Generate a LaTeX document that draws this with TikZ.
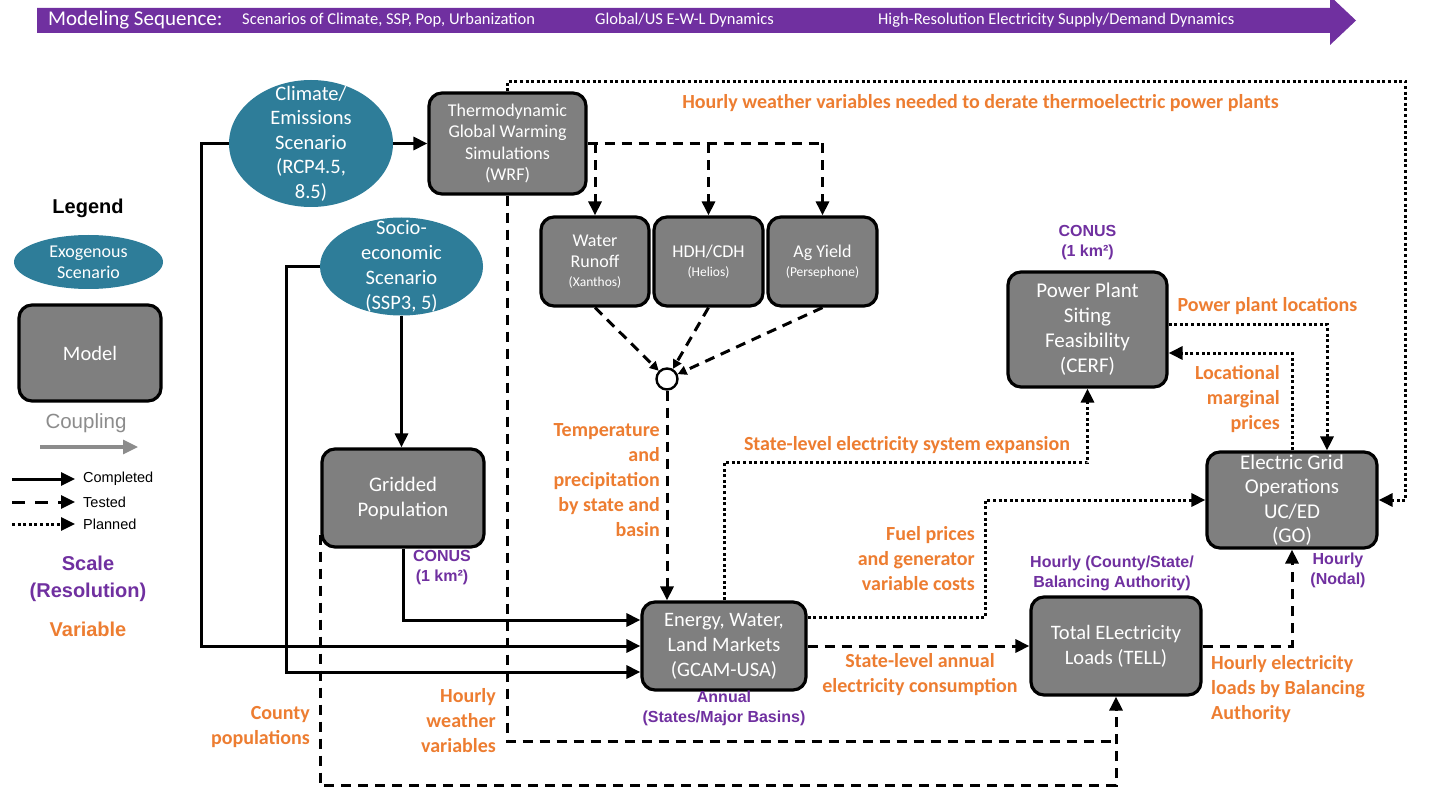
\documentclass[tikz,border=0pt]{standalone}
\usepackage{fontspec}
\setmainfont{Carlito}
\newfontfamily\arialf{Liberation Sans}
\usetikzlibrary{arrows.meta,shapes.geometric}
\definecolor{tealc}{HTML}{2E7D99}
\definecolor{boxgray}{HTML}{7F7F7F}
\definecolor{purplec}{HTML}{7030A0}
\definecolor{orangec}{HTML}{ED7D31}
\definecolor{cplgray}{HTML}{8C8C8C}
\newcommand{\myfs}[2]{\fontsize{#1}{#2}\selectfont}
\tikzset{
  model/.style={draw=black, line width=3.2pt, fill=boxgray, rounded corners=13pt, text=white, align=center, inner sep=0pt},
  scen/.style={ellipse, fill=tealc, inner sep=0pt},
  scentxt/.style={text=white, align=center, inner sep=0pt, font=\myfs{20.5}{24.5}},
  con/.style={line width=3pt},
  tipb/.style={-{Triangle[length=14pt,width=13pt]}},
  solidarr/.style={con, tipb},
  dashln/.style={con, dash pattern=on 10pt off 7pt},
  dasharr/.style={con, dash pattern=on 10pt off 7pt, tipb},
  dasharrs/.style={con, dash pattern=on 10pt off 7pt, -{Triangle[length=9pt,width=9pt]}},
  dotarr/.style={con, dash pattern=on 3pt off 2.6pt, tipb},
  olbl/.style={text=orangec, font=\bfseries\myfs{20}{25}, inner sep=0pt},
  plbl/.style={text=purplec, font=\arialf\bfseries\myfs{16}{20}, align=center, inner sep=0pt},
  bantxt/.style={text=white, anchor=west, inner sep=0pt, font=\myfs{16.5}{20}},
}
\begin{document}
\begin{tikzpicture}[x=1pt,y=-1pt]
\fill[white] (0,0) rectangle (1440,810);
\useasboundingbox (0,0) rectangle (1440,810);

% banner
\fill[purplec] (37,8) -- (1330,8) -- (1330,-4) -- (1356,20.5) -- (1330,45) -- (1330,33) -- (37,33) -- cycle;
\node[bantxt, font=\myfs{21}{24}] (bseq) at (48,20.5) {Modeling Sequence:};
\node[bantxt] (bs1) at (242,20.5) {Scenarios of Climate, SSP, Pop, Urbanization};
\node[bantxt] (bs2) at (595,20.5) {Global/US E-W-L Dynamics};
\node[bantxt] (bs3) at (878,20.5) {High-Resolution Electricity Supply/Demand Dynamics};

% legend
\node[font=\arialf\bfseries\myfs{20}{24}, inner sep=0pt] (leg) at (88,208) {Legend};
\node[scen, minimum width=149pt, minimum height=54pt, label={[scentxt, font=\myfs{18}{21}]center:{Exogenous\\Scenario}}] (legexo) at (88.5,262) {};
\node[model, minimum width=142pt, minimum height=96pt, font=\myfs{20.5}{24}] (legmodel) at (90,353) {Model};
\node[text=cplgray, font=\arialf\myfs{20.5}{24}, inner sep=0pt] (cpl) at (86,423) {Coupling};
\coordinate (cpla) at (40,447);
\coordinate (cplb) at (138,447);
\draw[line width=3.2pt, draw=cplgray, -{Triangle[length=15pt,width=14pt]}] (cpla) -- (cplb);
\coordinate (l1a) at (12,479); \coordinate (l1b) at (75,479);
\coordinate (l2a) at (12,502); \coordinate (l2b) at (75,502);
\coordinate (l3a) at (12,524); \coordinate (l3b) at (75,524);
\draw[solidarr] (l1a) -- (l1b);
\draw[con, dash pattern=on 13pt off 10pt, tipb] (l2a) -- (l2b);
\draw[dotarr] (l3a) -- (l3b);
\node[anchor=west, inner sep=0pt, font=\arialf\myfs{14.5}{17}] (t1) at (83,479) {Completed};
\node[anchor=west, inner sep=0pt, font=\arialf\myfs{14.5}{17}] (t2) at (83,502) {Tested};
\node[anchor=west, inner sep=0pt, font=\arialf\myfs{14.5}{17}] (t3) at (83,524) {Planned};
\node[text=purplec, align=center, inner sep=0pt, font=\arialf\bfseries\myfs{20}{27}] (lscale) at (88,578.5) {Scale\\(Resolution)};
\node[text=orangec, inner sep=0pt, font=\arialf\bfseries\myfs{20}{24}] (lvar) at (88,629) {Variable};

% scenarios
\node[scen, minimum width=164pt, minimum height=127pt, label={[scentxt]center:{Climate/\\Emissions\\Scenario\\(RCP4.5,\\8.5)}}] (clim) at (311,143.5) {};
\node[scen, minimum width=163pt, minimum height=98pt, label={[scentxt, font=\myfs{20.5}{25}]center:{Socio-\\economic\\Scenario\\(SSP3, 5)}}] (socio) at (401.5,266.5) {};

% models
\node[model, minimum width=157pt, minimum height=101pt, font=\myfs{18}{21.5}] (wrf) at (507.5,143.5) {Thermodynamic\\Global Warming\\Simulations\\(WRF)};
\node[model, minimum width=108pt, minimum height=89pt, font=\myfs{18}{21}] (runoff) at (595,261.5) {Water\\Runoff\\[-2pt]{\myfs{13.5}{16}(Xanthos)}};
\node[model, minimum width=109pt, minimum height=89pt, font=\myfs{18}{21}] (hdh) at (708.5,261.5) {HDH/CDH\\[-2pt]{\myfs{13.5}{16}(Helios)}};
\node[model, minimum width=109pt, minimum height=89pt, font=\myfs{18}{21}] (ag) at (822.5,261.5) {Ag Yield\\[-2pt]{\myfs{13.5}{16}(Persephone)}};
\node[model, minimum width=159pt, minimum height=115pt, font=\myfs{21}{25}] (cerf) at (1087.5,329.5) {Power Plant\\Siting\\Feasibility\\(CERF)};
\node[model, minimum width=170pt, minimum height=96pt, font=\myfs{21}{24.5}] (go) at (1292,500) {Electric Grid\\Operations\\UC/ED\\(GO)};
\node[model, minimum width=162pt, minimum height=98pt, font=\myfs{20.7}{25}] (gridpop) at (403,498) {Gridded\\Population};
\node[model, minimum width=164pt, minimum height=88pt, font=\myfs{20.5}{25}] (gcam) at (724,646) {Energy, Water,\\Land Markets\\(GCAM-USA)};
\node[model, minimum width=170pt, minimum height=98pt, font=\myfs{20.5}{25}] (tell) at (1116,646) {Total ELectricity\\Loads (TELL)};
\node[circle, draw=black, line width=2.4pt, fill=white, minimum size=21pt, inner sep=0pt] (jn) at (667,379) {};

% solid connectors
\draw[solidarr] (clim.east) -- (wrf.west);
\draw[solidarr] (clim.west) -- ++(-27,0) |- (gcam.west);
\draw[solidarr] (socio.west) -- ++(-33,0) |- ([yshift=-26pt]gcam.west);
\draw[solidarr] (socio.south) -- (socio.south |- gridpop.north);
\draw[solidarr] (gridpop.south) |- ([yshift=26pt]gcam.west);

% dashed connectors
\draw[dashln] (wrf.east) -- (wrf.east -| ag.north);
\draw[dasharr] (wrf.east -| runoff.north) -- (runoff.north);
\draw[dasharr] (wrf.east -| hdh.north) -- (hdh.north);
\draw[dasharr] (wrf.east -| ag.north) -- (ag.north);
\draw[dasharrs] (runoff.south) -- (jn);
\draw[dasharrs] (hdh.south) -- (jn);
\draw[dasharrs] (ag.south) -- (jn);
\draw[dasharr] (jn.south) -- (jn.south |- gcam.north);
\draw[dashln] (wrf.south) |- ([yshift=-45pt]tell.south);
\draw[dasharr] ([yshift=14pt]gridpop.south west) |- ([yshift=-89pt]tell.south) -- (tell.south);
\draw[dasharr] (gcam.east) -- (tell.west);
\draw[dasharr] (tell.east) -| (go.south);

% dotted connectors
\draw[dotarr] (wrf.north) -- ++(0,-10) -| ([xshift=27pt]go.east) -- (go.east);
\draw[dotarr] (gcam.north) |- ([yshift=-74pt]cerf.south) -- (cerf.south);
\draw[dotarr] ([yshift=29pt]gcam.east) -- ++(178,0) |- (go.west);
\draw[dotarr] ([yshift=5.5pt]cerf.east) -| ([xshift=35pt]go.north);
\draw[dotarr] (go.north) |- ([yshift=-23.5pt]cerf.east);

% orange labels
\node[olbl] (lhw) at (980.5,103) {Hourly weather variables needed to derate thermoelectric power plants};
\node[olbl, anchor=east, align=right] (ltemp) at (660,480) {Temperature\\and\\precipitation\\by state and\\basin};
\node[olbl] (lexp) at (907,445) {State-level electricity system expansion};
\node[olbl, anchor=east, align=right] (lfuel) at (975,559) {Fuel prices\\and generator\\variable costs};
\node[olbl, align=center] (lann) at (920,674.5) {State-level annual\\electricity consumption};
\node[olbl, anchor=west, align=left] (lhel) at (1211,689) {Hourly electricity\\loads by Balancing\\Authority};
\node[olbl] (lppl) at (1267.5,306) {Power plant locations};
\node[olbl, anchor=east, align=right] (llmp) at (1280,399) {Locational\\marginal\\prices};
\node[olbl, anchor=east, align=right] (lhwv) at (496,721) {Hourly\\weather\\variables};
\node[olbl, anchor=east, align=right] (lcty) at (310,727.5) {County\\populations};

% purple labels
\node[plbl] (pcerf) at (1087.5,243) {CONUS\\(1 km²)};
\node[plbl] (pgrid) at (442,568) {CONUS\\(1 km²)};
\node[plbl] (pgcam) at (724,708) {Annual\\(States/Major Basins)};
\node[plbl] (ptell) at (1112,573) {Hourly (County/State/\\Balancing Authority)};
\node[plbl] (pgo) at (1338,570) {Hourly\\(Nodal)};
\end{tikzpicture}
\end{document}
